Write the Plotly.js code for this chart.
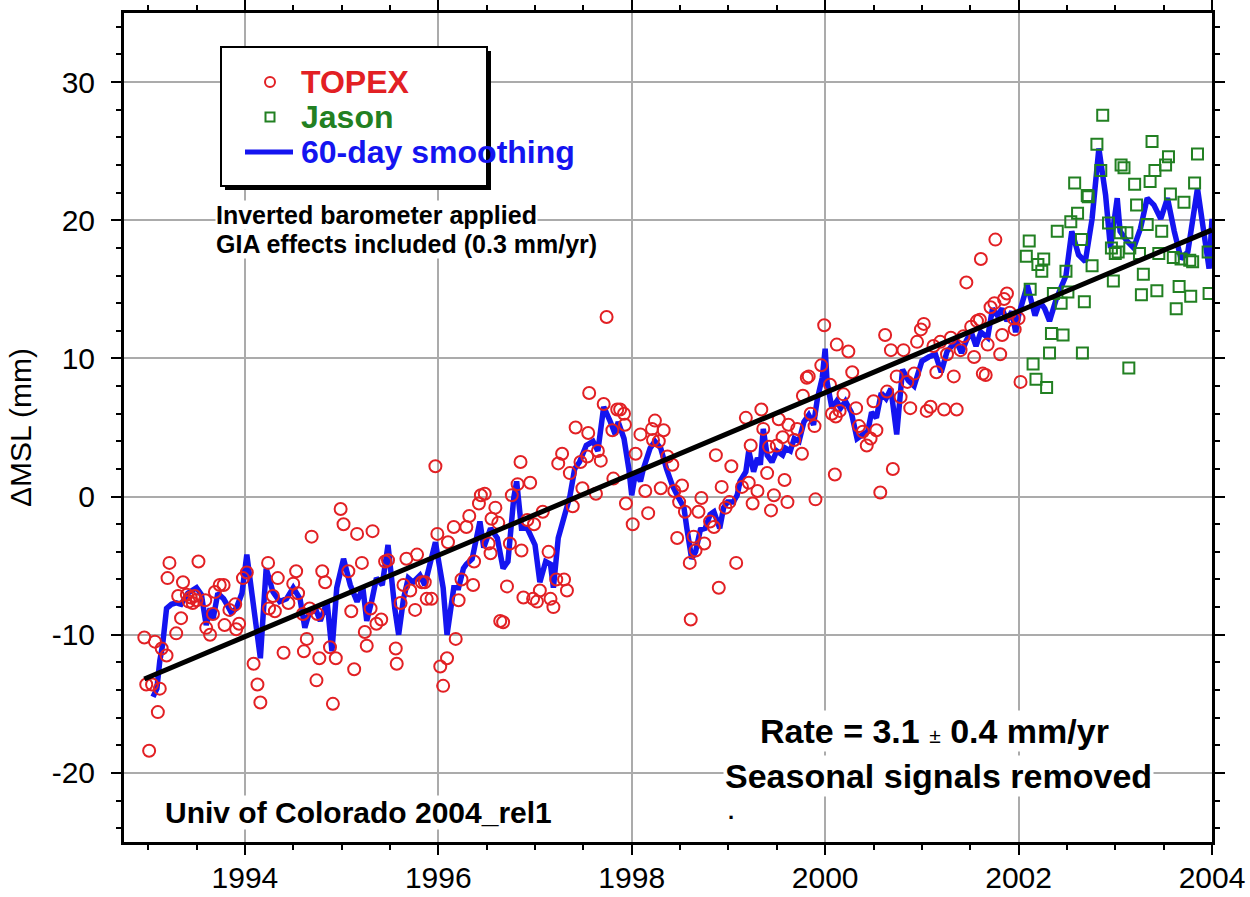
<!DOCTYPE html>
<html>
<head>
<meta charset="utf-8">
<script src="https://cdn.plot.ly/plotly-3.0.1.min.js"></script>
<style>html,body{margin:0;padding:0;background:#fff;}#chart{width:1250px;height:897px;}</style>
</head>
<body>
<div id="chart"></div>
<script>
// ---------------- data ----------------
const topexYears = [1992.96,1992.98,1993.01,1993.04,1993.07,1993.10,1993.12,1993.14,1993.19,1993.20,1993.22,1993.29,1993.31,1993.34,1993.36,1993.40,1993.42,1993.44,1993.46,1993.48,1993.50,1993.52,1993.59,1993.60,1993.64,1993.67,1993.69,1993.74,1993.78,1993.79,1993.84,1993.90,1993.91,1993.94,1993.98,1994.02,1994.09,1994.13,1994.16,1994.24,1994.25,1994.29,1994.31,1994.34,1994.40,1994.45,1994.50,1994.53,1994.55,1994.60,1994.61,1994.64,1994.67,1994.69,1994.74,1994.75,1994.77,1994.80,1994.83,1994.88,1994.91,1994.94,1994.99,1995.02,1995.07,1995.10,1995.13,1995.16,1995.21,1995.24,1995.26,1995.30,1995.32,1995.36,1995.41,1995.45,1995.48,1995.56,1995.57,1995.61,1995.64,1995.67,1995.71,1995.76,1995.78,1995.83,1995.86,1995.88,1995.93,1995.97,1995.99,1996.02,1996.05,1996.09,1996.10,1996.16,1996.18,1996.21,1996.24,1996.29,1996.32,1996.36,1996.37,1996.42,1996.44,1996.48,1996.52,1996.54,1996.55,1996.59,1996.62,1996.64,1996.67,1996.71,1996.74,1996.76,1996.82,1996.85,1996.86,1996.88,1996.92,1996.95,1996.98,1996.99,1997.02,1997.05,1997.08,1997.14,1997.16,1997.19,1997.22,1997.24,1997.28,1997.30,1997.33,1997.36,1997.39,1997.42,1997.47,1997.49,1997.54,1997.55,1997.56,1997.63,1997.65,1997.68,1997.71,1997.74,1997.80,1997.81,1997.85,1997.88,1997.92,1997.93,1997.94,1998.01,1998.04,1998.09,1998.14,1998.17,1998.21,1998.22,1998.24,1998.28,1998.30,1998.33,1998.37,1998.42,1998.44,1998.47,1998.49,1998.52,1998.55,1998.60,1998.61,1998.64,1998.66,1998.69,1998.72,1998.75,1998.81,1998.85,1998.87,1998.90,1998.93,1998.97,1999.01,1999.03,1999.08,1999.14,1999.18,1999.21,1999.23,1999.25,1999.30,1999.34,1999.36,1999.40,1999.42,1999.44,1999.47,1999.50,1999.52,1999.56,1999.58,1999.61,1999.62,1999.68,1999.71,1999.76,1999.77,1999.81,1999.83,1999.85,1999.89,1999.90,1999.96,1999.99,2000.05,2000.07,2000.10,2000.11,2000.12,2000.15,2000.19,2000.24,2000.28,2000.32,2000.35,2000.39,2000.43,2000.47,2000.50,2000.53,2000.57,2000.62,2000.64,2000.68,2000.70,2000.74,2000.78,2000.81,2000.85,2000.88,2000.92,2000.95,2000.99,2001.02,2001.05,2001.09,2001.12,2001.15,2001.19,2001.23,2001.26,2001.30,2001.33,2001.36,2001.40,2001.43,2001.46,2001.51,2001.54,2001.57,2001.60,2001.61,2001.63,2001.66,2001.68,2001.71,2001.75,2001.76,2001.81,2001.83,2001.85,2001.88,2001.91,2001.95,2001.96,2002.00,2002.02];
const topexValues = [-10.2,-13.6,-18.4,-13.6,-10.5,-15.6,-13.9,-11.0,-11.5,-5.9,-4.8,-9.9,-7.2,-8.8,-6.2,-7.1,-7.6,-7.3,-7.7,-7.2,-7.5,-4.7,-7.5,-9.5,-10.0,-8.5,-6.9,-6.4,-6.4,-9.3,-8.2,-7.8,-9.6,-9.2,-5.9,-5.5,-12.1,-13.6,-14.9,-4.8,-8.1,-7.2,-8.3,-5.9,-11.3,-7.7,-6.3,-5.4,-7.0,-8.5,-11.2,-10.3,-8.1,-2.9,-13.3,-8.5,-11.7,-5.4,-6.2,-10.9,-15.0,-11.7,-0.9,-2.0,-5.4,-8.3,-12.5,-2.7,-4.8,-9.8,-10.8,-8.1,-2.5,-9.2,-8.9,-4.7,-4.6,-11.0,-12.1,-7.7,-6.4,-4.5,-6.8,-8.2,-4.2,-6.2,-6.2,-7.4,-7.4,2.2,-2.7,-12.3,-13.7,-11.7,-3.3,-2.2,-10.3,-7.5,-6.0,-2.2,-1.4,-6.4,-4.7,-0.5,0.1,0.2,-3.4,-4.1,-1.6,-0.8,-1.9,-9.0,-9.1,-6.5,-3.4,0.1,0.9,2.5,-3.9,-7.3,-1.7,1.0,-7.4,-2.0,-7.6,-6.8,-1.1,-4.0,-7.4,-8.0,-6.0,2.4,3.1,-6.0,-6.8,1.7,-0.7,5.0,2.5,0.6,2.9,4.6,7.5,0.2,3.3,2.6,6.7,13.0,4.8,1.3,6.3,6.3,6.0,5.2,-0.5,-2.0,3.1,4.5,0.4,-1.2,4.9,4.1,5.5,4.0,0.6,4.8,2.9,2.3,0.4,-3.0,-0.4,0.8,-1.1,-4.8,-8.9,-2.9,-3.9,-1.1,-0.1,-3.4,-1.8,-2.2,3.0,-6.6,0.7,-0.8,-0.4,2.2,-4.8,0.7,5.7,1.0,3.7,-0.5,0.4,6.3,4.9,1.7,3.6,-1.0,0.1,3.7,5.6,4.3,1.2,-0.4,5.2,4.1,4.9,3.1,7.3,8.6,8.7,6.0,5.1,-0.2,9.5,12.4,8.1,6.0,1.6,5.8,11.0,6.2,7.4,10.5,9.0,6.4,5.1,4.7,3.7,4.2,6.9,4.8,0.3,11.7,7.6,10.6,2.0,8.7,7.2,10.6,8.3,6.4,8.9,11.2,12.1,12.5,6.2,6.5,10.9,9.0,11.2,6.3,10.3,11.5,8.7,6.3,10.6,11.6,15.5,12.3,10.1,12.7,12.8,17.2,8.9,8.8,11.0,13.7,14.0,18.6,10.3,11.7,14.3,14.7,13.3,12.9,12.1,12.9,8.3];

const jasonYears = [2002.08,2002.11,2002.12,2002.15,2002.18,2002.20,2002.24,2002.26,2002.29,2002.32,2002.34,2002.36,2002.40,2002.44,2002.46,2002.49,2002.51,2002.54,2002.58,2002.61,2002.65,2002.66,2002.68,2002.71,2002.72,2002.76,2002.81,2002.85,2002.87,2002.93,2002.96,2002.98,2003.00,2003.03,2003.05,2003.06,2003.09,2003.12,2003.14,2003.15,2003.20,2003.22,2003.25,2003.27,2003.29,2003.33,2003.36,2003.38,2003.41,2003.43,2003.45,2003.48,2003.52,2003.55,2003.57,2003.60,2003.63,2003.66,2003.68,2003.71,2003.77,2003.78,2003.80,2003.82,2003.85,2003.96,2003.97];
const jasonValues = [17.4,18.5,15.0,9.6,8.5,16.8,16.3,17.2,7.9,10.4,11.8,14.7,19.2,14.0,11.7,16.3,14.8,19.9,22.7,20.5,18.6,10.4,14.1,21.8,21.7,16.7,25.5,23.6,27.6,19.8,18.0,15.6,17.6,17.7,19.1,24.0,23.8,19.1,9.3,18.0,22.6,21.1,17.6,14.6,16.1,19.7,22.8,25.7,23.6,14.9,17.6,19.2,24.0,24.6,21.9,17.3,13.6,15.2,17.2,21.3,17.1,14.5,17.0,22.7,24.8,17.7,14.7];

const smoothYears = [1993.05,1993.09,1993.12,1993.15,1993.19,1993.24,1993.29,1993.34,1993.41,1993.50,1993.55,1993.60,1993.64,1993.67,1993.72,1993.78,1993.83,1993.86,1993.91,1993.97,1994.02,1994.09,1994.16,1994.22,1994.29,1994.36,1994.43,1994.50,1994.57,1994.62,1994.67,1994.74,1994.78,1994.85,1994.90,1994.95,1995.02,1995.09,1995.16,1995.22,1995.26,1995.31,1995.36,1995.42,1995.48,1995.55,1995.59,1995.64,1995.69,1995.74,1995.81,1995.86,1995.93,1995.97,1996.05,1996.09,1996.16,1996.21,1996.26,1996.29,1996.35,1996.43,1996.47,1996.54,1996.61,1996.67,1996.72,1996.78,1996.81,1996.86,1996.92,1997.00,1997.05,1997.11,1997.16,1997.19,1997.24,1997.30,1997.36,1997.41,1997.46,1997.53,1997.60,1997.65,1997.71,1997.78,1997.83,1997.86,1997.92,1997.97,1998.00,1998.04,1998.09,1998.12,1998.19,1998.24,1998.30,1998.36,1998.42,1998.47,1998.54,1998.57,1998.62,1998.66,1998.71,1998.76,1998.81,1998.85,1998.91,1998.95,1998.99,1999.05,1999.09,1999.12,1999.18,1999.21,1999.26,1999.30,1999.33,1999.36,1999.40,1999.45,1999.50,1999.56,1999.59,1999.64,1999.68,1999.73,1999.78,1999.83,1999.88,1999.92,1999.97,2000.00,2000.02,2000.07,2000.12,2000.16,2000.21,2000.27,2000.33,2000.39,2000.44,2000.48,2000.53,2000.58,2000.63,2000.68,2000.74,2000.80,2000.86,2000.92,2001.00,2001.07,2001.14,2001.20,2001.26,2001.31,2001.36,2001.41,2001.46,2001.51,2001.56,2001.61,2001.68,2001.73,2001.78,2001.83,2001.88,2001.93,2001.97,2002.00,2002.09,2002.17,2002.22,2002.27,2002.32,2002.39,2002.49,2002.55,2002.62,2002.69,2002.76,2002.83,2002.90,2002.95,2003.02,2003.05,2003.12,2003.19,2003.26,2003.33,2003.40,2003.47,2003.54,2003.61,2003.68,2003.75,2003.85,2003.92,2003.97,2004.00];
const smoothValues = [-14.5,-13.9,-11.9,-10.7,-8.1,-7.8,-7.7,-7.8,-7.0,-6.6,-7.1,-9.3,-8.1,-8.9,-7.0,-7.4,-8.0,-8.4,-8.1,-7.0,-4.2,-8.0,-11.7,-5.2,-6.9,-7.6,-7.4,-6.6,-7.4,-9.5,-8.3,-8.3,-9.0,-7.6,-11.2,-6.6,-4.5,-6.4,-7.6,-6.6,-9.0,-7.6,-5.9,-6.4,-3.5,-8.1,-10.0,-7.4,-5.9,-6.2,-5.7,-6.4,-4.2,-3.3,-6.6,-10.0,-6.6,-6.6,-5.2,-4.9,-4.5,-1.8,-3.7,-2.3,-3.0,-5.2,-4.7,-0.1,1.1,-2.3,-2.3,-3.5,-6.2,-4.7,-4.9,-6.6,-3.0,-1.3,0.0,2.0,2.5,3.7,4.0,3.3,6.5,5.4,4.5,5.4,4.2,2.0,0.1,1.8,1.1,2.0,3.5,4.0,3.5,2.0,0.8,0.1,-0.8,-2.3,-4.5,-4.0,-2.4,-2.3,-1.3,-1.1,-2.3,-0.8,-0.4,-0.4,0.1,1.1,1.8,3.3,1.8,2.8,2.3,4.9,3.0,2.5,3.3,3.0,3.5,3.3,4.2,4.0,5.4,5.9,5.2,7.1,8.6,10.7,8.3,6.4,6.9,6.4,6.9,6.1,4.2,4.5,4.7,6.1,5.7,7.5,7.1,7.8,4.5,9.2,8.4,8.0,9.8,10.1,10.3,9.0,10.5,10.9,11.2,10.4,11.3,11.9,10.9,11.9,11.5,13.6,13.1,13.6,12.7,13.4,11.9,13.1,15.3,13.1,14.1,13.6,12.7,14.3,16.0,19.2,17.5,17.0,20.1,25.2,21.8,18.0,21.6,19.2,18.5,18.0,19.4,21.6,21.1,20.1,21.6,19.2,17.2,17.7,22.3,18.9,16.5,20.1];

const trendYears = [1992.96, 2004.0];
const trendValues = [-13.2, 19.3];

const xTickVals = [1994, 1996, 1998, 2000, 2002, 2004];
const xTickLabels = ['1994', '1996', '1998', '2000', '2002', '2004'];
const yTickVals = [-20, -10, 0, 10, 20, 30];
const yTickLabels = ['-20', '-10', '0', '10', '20', '30'];

const legendLabels = ['TOPEX', 'Jason', '60-day smoothing'];
const notes = ['Inverted barometer applied', 'GIA effects included (0.3 mm/yr)'];
const rateText = 'Rate = 3.1 <span style="font-size:21px;font-weight:normal">±</span> 0.4 mm/yr';
const seasonalText = 'Seasonal signals removed';
const creditText = 'Univ of Colorado 2004_rel1';

// ---------------- styling ----------------
const FONT = 'Liberation Sans, Arial, Helvetica, sans-serif';
const RED = 'rgb(226,32,36)';
const GREEN = 'rgb(34,128,34)';
const BLUE = 'rgb(20,20,240)';
const W = 1250, H = 897;
const M = {l: 124, r: 38, t: 13, b: 55};
const PW = W - M.l - M.r, PH = H - M.t - M.b;
const px = X => (X - M.l) / PW;        // pixel -> paper x
const py = Y => (H - M.b - Y) / PH;    // pixel -> paper y

const traces = [
  {x: smoothYears, y: smoothValues, type: 'scatter', mode: 'lines', name: legendLabels[2],
   line: {color: BLUE, width: 5.5}, showlegend: false, hoverinfo: 'skip'},
  {x: topexYears, y: topexValues, type: 'scatter', mode: 'markers', name: legendLabels[0],
   marker: {symbol: 'circle-open', size: 12, color: RED, line: {color: RED, width: 2}}, showlegend: false},
  {x: jasonYears, y: jasonValues, type: 'scatter', mode: 'markers', name: legendLabels[1],
   marker: {symbol: 'square-open', size: 11, color: GREEN, line: {color: GREEN, width: 2}}, showlegend: false},
  {x: trendYears, y: trendValues, type: 'scatter', mode: 'lines', name: 'Trend',
   line: {color: 'black', width: 5}, showlegend: false}
];

const axisCommon = {
  showline: true, linecolor: 'black', linewidth: 3, mirror: 'allticks',
  ticks: 'outside', ticklen: 10, tickwidth: 2, tickcolor: 'black',
  showgrid: true, gridcolor: '#ababab', gridwidth: 1.5, zeroline: false,
  tickfont: {family: FONT, size: 30, color: 'black'},
  tickmode: 'array'
};

const shapes = [
  // legend box with shadow
  {type: 'rect', xref: 'paper', yref: 'paper', x0: px(225), x1: px(491), y0: py(51), y1: py(190),
   fillcolor: 'black', line: {width: 0}},
  {type: 'rect', xref: 'paper', yref: 'paper', x0: px(221), x1: px(487), y0: py(47), y1: py(186),
   fillcolor: 'white', line: {color: 'black', width: 2}},
  // legend symbols
  {type: 'circle', xref: 'paper', yref: 'paper', xsizemode: 'pixel', ysizemode: 'pixel',
   xanchor: px(270), yanchor: py(82), x0: -5, x1: 5, y0: -5, y1: 5, line: {color: RED, width: 2}},
  {type: 'rect', xref: 'paper', yref: 'paper', xsizemode: 'pixel', ysizemode: 'pixel',
   xanchor: px(270), yanchor: py(117), x0: -4.5, x1: 4.5, y0: -4.5, y1: 4.5, line: {color: GREEN, width: 2}},
  {type: 'line', xref: 'paper', yref: 'paper', x0: px(245), x1: px(293), y0: py(152), y1: py(152),
   line: {color: BLUE, width: 5}}
];

function note(text, X, Y, size, opts) {
  return Object.assign({text: text, xref: 'paper', yref: 'paper', x: px(X), y: py(Y),
    xanchor: 'left', yanchor: 'middle', showarrow: false, align: 'left',
    font: {family: FONT, size: size, color: 'black', weight: 'bold'}}, opts || {});
}

const annotations = [
  note(legendLabels[0], 299, 82, 32, {font: {family: FONT, size: 32, color: RED, weight: 'bold'}}),
  note(legendLabels[1], 299, 117, 32, {font: {family: FONT, size: 32, color: GREEN, weight: 'bold'}}),
  note(legendLabels[2], 299, 152, 32, {font: {family: FONT, size: 32, color: BLUE, weight: 'bold'}}),
  note(notes[0], 215, 215, 25, {bgcolor: 'white', borderpad: 0}),
  note(notes[1], 215, 244, 25, {bgcolor: 'white', borderpad: 0}),
  note(rateText, 758, 731, 34, {bgcolor: 'white', borderpad: 1}),
  note(seasonalText, 723, 776, 34, {bgcolor: 'white', borderpad: 1}),
  note('.', 726, 811, 22),
  note(creditText, 164, 812, 30, {bgcolor: 'white', borderpad: 0})
];

const layout = {
  width: W, height: H,
  margin: M,
  paper_bgcolor: 'white', plot_bgcolor: 'white',
  font: {family: FONT, color: 'black'},
  showlegend: false,
  xaxis: Object.assign({}, axisCommon, {
    range: [1992.75, 2004], tickvals: xTickVals, ticktext: xTickLabels,
    ticklabelstandoff: -3,
    minor: {tick0: 1994, dtick: 0.5, ticks: 'outside', ticklen: 5, tickwidth: 2, tickcolor: 'black', showgrid: false}
  }),
  yaxis: Object.assign({}, axisCommon, {
    range: [-25, 35], tickvals: yTickVals, ticktext: yTickLabels,
    ticklabelstandoff: 10,
    minor: {tick0: 0, dtick: 2, ticks: 'outside', ticklen: 5, tickwidth: 2, tickcolor: 'black', showgrid: false},
    title: {text: 'ΔMSL (mm)', font: {family: FONT, size: 30, color: 'black'}, standoff: 12}
  }),
  shapes: shapes,
  annotations: annotations
};

Plotly.newPlot('chart', traces, layout, {displayModeBar: false, responsive: false});
</script>
</body>
</html>
